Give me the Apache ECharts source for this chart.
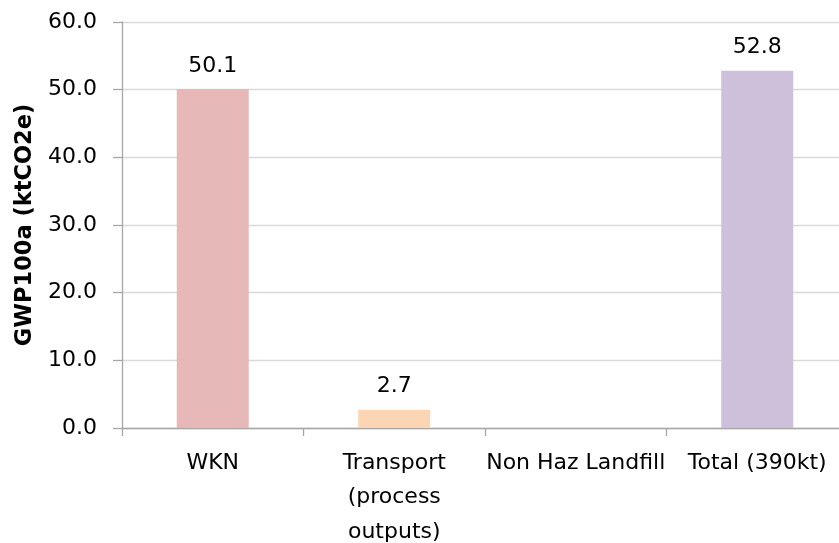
<!DOCTYPE html>
<html>
<head>
<meta charset="utf-8">
<script src="https://cdn.jsdelivr.net/npm/echarts@6/dist/echarts.min.js"></script>
<style>
  html, body { margin: 0; padding: 0; background: #fff; }
  #chart { width: 839px; height: 543px; }
</style>
</head>
<body>
<div id="chart"></div>
<script>
// Emissions by stage, GWP100a in kt CO2e
const categories = ['WKN', 'Transport\n(process\noutputs)', 'Non Haz Landfill', 'Total (390kt)'];
const values = [50.1, 2.7, 0, 52.8];
const barColors = ['#E6B8B7', '#FCD5B4', '#B7DEE8', '#CCC0DA'];
const yTicks = { min: 0, max: 60, interval: 10 };
const yTitle = 'GWP100a (ktCO2e)';

const FONT = 'DejaVu Sans';

const chart = echarts.init(document.getElementById('chart'), null, { renderer: 'canvas' });

chart.setOption({
  backgroundColor: '#ffffff',
  animation: false,
  grid: { left: 122, right: -9, top: 22, bottom: 115, outerBoundsMode: 'none', containLabel: false },
  xAxis: {
    type: 'category',
    data: categories,
    axisLine: { lineStyle: { color: '#A6A6A6', width: 1.3 } },
    axisTick: { show: true, length: 8, alignWithLabel: false, lineStyle: { color: '#A6A6A6', width: 1.3 } },
    axisLabel: {
      interval: 0,
      margin: 18,
      color: '#000',
      fontFamily: FONT,
      fontSize: 22,
      lineHeight: 34.5
    }
  },
  yAxis: {
    type: 'value',
    min: yTicks.min,
    max: yTicks.max,
    interval: yTicks.interval,
    name: yTitle,
    nameLocation: 'middle',
    nameGap: 74,
    nameRotate: 90,
    nameTextStyle: { fontFamily: FONT, fontSize: 22.5, fontWeight: 'bold', color: '#000' },
    axisLine: { show: true, lineStyle: { color: '#A6A6A6', width: 1.3 } },
    axisTick: { show: true, length: 9, lineStyle: { color: '#A6A6A6', width: 1.3 } },
    splitLine: { lineStyle: { color: '#D9D9D9', width: 1.3 } },
    axisLabel: {
      margin: 25,
      padding: [4, 0, 0, 0],
      color: '#000',
      fontFamily: FONT,
      fontSize: 22,
      formatter: v => v.toFixed(1)
    }
  },
  series: [{
    type: 'bar',
    barWidth: 72,
    data: values.map((v, i) => ({ value: v, itemStyle: { color: barColors[i] } })),
    label: {
      show: true,
      position: 'top',
      distance: 12,
      color: '#000',
      fontFamily: FONT,
      fontSize: 22,
      formatter: p => (p.value > 0 ? p.value.toFixed(1) : '')
    }
  }]
});
</script>
</body>
</html>
